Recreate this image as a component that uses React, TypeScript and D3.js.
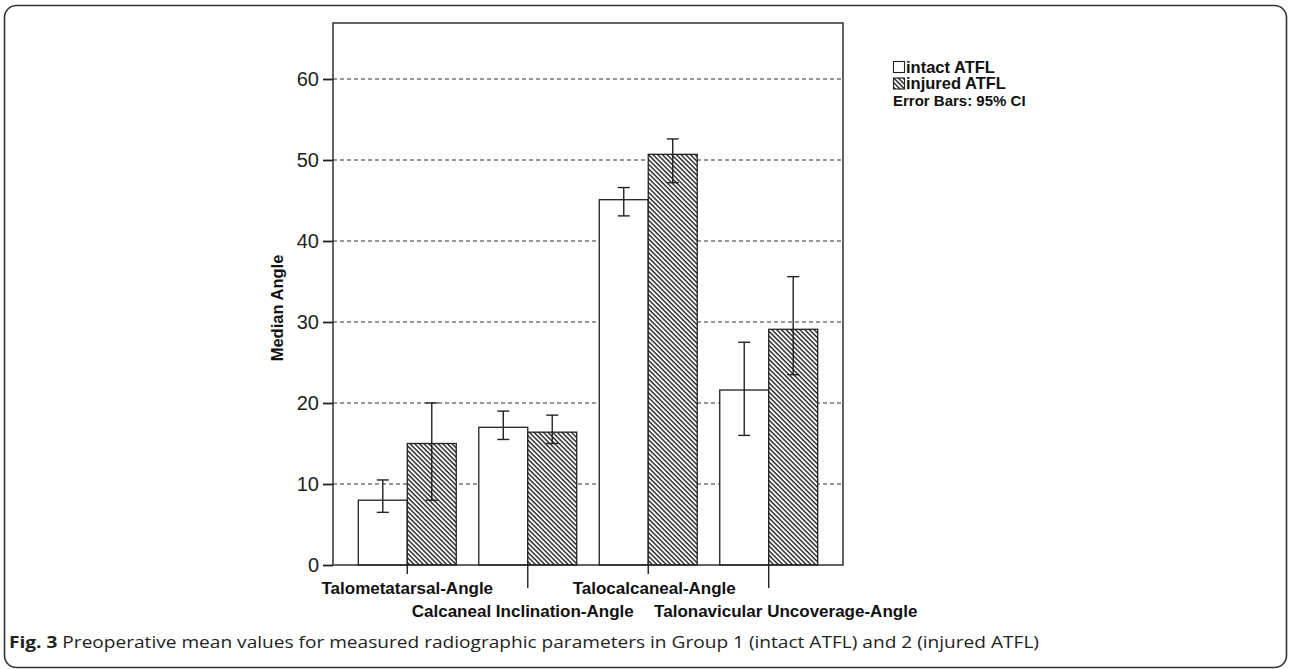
import { useEffect, useRef } from "react";
import * as d3 from "d3";

const categories = [
  "Talometatarsal-Angle",
  "Calcaneal Inclination-Angle",
  "Talocalcaneal-Angle",
  "Talonavicular Uncoverage-Angle",
];
const groups = ["intact ATFL", "injured ATFL"];

// means and 95% CI [low, high]
const intactMean = [8.0, 17.0, 45.1, 21.6];
const intactLow = [6.5, 15.5, 43.1, 16.0];
const intactHigh = [10.5, 19.0, 46.6, 27.5];
const injuredMean = [15.0, 16.4, 50.7, 29.1];
const injuredLow = [8.0, 15.0, 47.2, 23.5];
const injuredHigh = [20.0, 18.5, 52.6, 35.6];

const yTicks = [0, 10, 20, 30, 40, 50, 60];

const W = 1290, H = 669;
const frame = { left: 333, right: 843, top: 23, bottom: 565 };
const font = "Arial, 'Liberation Sans', sans-serif";
// small horizontal nudges of the staggered category labels, as in the original
const labelShift = [0, -5, 6, 17];

const App = () => {
  const ref = useRef<SVGSVGElement>(null);

  useEffect(() => {
    const svg = d3.select(ref.current);
    svg.selectAll("*").remove();

    const defs = svg.append("defs");
    defs.append("pattern")
      .attr("id", "hatch")
      .attr("patternUnits", "userSpaceOnUse")
      .attr("width", 10)
      .attr("height", 3.3)
      .attr("patternTransform", "rotate(45)")
      .call(p => p.append("rect").attr("width", 10).attr("height", 3.3).attr("fill", "#fff"))
      .append("line")
      .attr("x1", 0).attr("x2", 10).attr("y1", 0.7).attr("y2", 0.7)
      .attr("stroke", "#111").attr("stroke-width", 1.3);

    // outer rounded border
    svg.append("rect")
      .attr("x", 4.5).attr("y", 5.5)
      .attr("width", 1282).attr("height", 662)
      .attr("rx", 12)
      .attr("fill", "none").attr("stroke", "#333").attr("stroke-width", 1.6);

    const y = d3.scaleLinear()
      .domain([0, (frame.bottom - frame.top) / 8.1])
      .range([frame.bottom, frame.top]);

    const x0 = d3.scaleBand()
      .domain(categories)
      .range([frame.left, frame.right])
      .paddingInner(0.187)
      .paddingOuter(0.21);

    const x1 = d3.scaleBand()
      .domain(groups)
      .range([0, x0.bandwidth()]);

    // grid
    svg.append("g")
      .selectAll("line")
      .data(yTicks.filter(t => t > 0))
      .join("line")
      .attr("x1", frame.left).attr("x2", frame.right)
      .attr("y1", d => y(d)).attr("y2", d => y(d))
      .attr("stroke", "#333").attr("stroke-width", 1.2)
      .attr("stroke-dasharray", "4,3");

    const series = [
      { key: groups[0], mean: intactMean, low: intactLow, high: intactHigh, fill: "#fff" },
      { key: groups[1], mean: injuredMean, low: injuredLow, high: injuredHigh, fill: "url(#hatch)" },
    ];

    // bars
    series.forEach(s => {
      svg.append("g")
        .selectAll("rect")
        .data(categories)
        .join("rect")
        .attr("x", (c) => (x0(c) as number) + (x1(s.key) as number))
        .attr("y", (_c, i) => y(s.mean[i]))
        .attr("width", x1.bandwidth())
        .attr("height", (_c, i) => y(0) - y(s.mean[i]))
        .attr("fill", s.fill)
        .attr("stroke", "#222").attr("stroke-width", 1.3);
    });

    // error bars
    series.forEach(s => {
      const g = svg.append("g").attr("stroke", "#222").attr("stroke-width", 1.4);
      categories.forEach((c, i) => {
        const cx = (x0(c) as number) + (x1(s.key) as number) + x1.bandwidth() / 2;
        g.append("line").attr("x1", cx).attr("x2", cx).attr("y1", y(s.low[i])).attr("y2", y(s.high[i]));
        g.append("line").attr("x1", cx - 6).attr("x2", cx + 6).attr("y1", y(s.low[i])).attr("y2", y(s.low[i]));
        g.append("line").attr("x1", cx - 6).attr("x2", cx + 6).attr("y1", y(s.high[i])).attr("y2", y(s.high[i]));
      });
    });

    // frame
    svg.append("rect")
      .attr("x", frame.left).attr("y", frame.top)
      .attr("width", frame.right - frame.left).attr("height", frame.bottom - frame.top)
      .attr("fill", "none").attr("stroke", "#222").attr("stroke-width", 1.4);

    // y axis
    const yAxis = svg.append("g")
      .attr("transform", `translate(${frame.left},0)`)
      .call(d3.axisLeft(y).tickValues(yTicks).tickSize(10).tickPadding(4))
      .call(g => g.select(".domain").remove());
    yAxis.selectAll("line").attr("stroke", "#222").attr("stroke-width", 1.8);
    yAxis.selectAll("text")
      .attr("font-family", font).attr("font-size", 20).attr("fill", "#222");

    svg.append("text")
      .attr("transform", `translate(283,308) rotate(-90)`)
      .attr("text-anchor", "middle")
      .attr("font-family", font).attr("font-size", 16.5).attr("font-weight", "bold")
      .attr("fill", "#111")
      .text("Median Angle");

    // x axis ticks and staggered labels
    const xg = svg.append("g");
    categories.forEach((c, i) => {
      const cx = (x0(c) as number) + x0.bandwidth() / 2;
      const long = i % 2 === 1;
      xg.append("line")
        .attr("x1", cx).attr("x2", cx)
        .attr("y1", frame.bottom).attr("y2", frame.bottom + (long ? 23 : 9))
        .attr("stroke", "#222").attr("stroke-width", 1.4);
      xg.append("text")
        .attr("x", cx + labelShift[i]).attr("y", long ? 617 : 594)
        .attr("text-anchor", "middle")
        .attr("font-family", font).attr("font-size", 17).attr("font-weight", "bold")
        .attr("fill", "#111")
        .text(c);
    });

    // legend
    const lg = svg.append("g").attr("font-family", font).attr("font-weight", "bold").attr("fill", "#111");
    series.forEach((s, i) => {
      lg.append("rect")
        .attr("x", 893.5).attr("y", 61.5 + i * 16.5)
        .attr("width", 11).attr("height", 11)
        .attr("fill", s.fill).attr("stroke", "#222").attr("stroke-width", 1.1);
      lg.append("text")
        .attr("x", 906).attr("y", 72.5 + i * 16.5)
        .attr("font-size", 16.5)
        .text(s.key);
    });
    lg.append("text")
      .attr("x", 893).attr("y", 106)
      .attr("font-size", 15)
      .text("Error Bars: 95% CI");

    // caption
    const cap = svg.append("text")
      .attr("x", 9).attr("y", 648)
      .attr("font-family", "'Open Sans', 'Noto Sans', sans-serif")
      .attr("font-size", 16).attr("fill", "#222")
      .attr("textLength", 1030).attr("lengthAdjust", "spacingAndGlyphs");
    cap.append("tspan").attr("font-weight", "bold").text("Fig. 3");
    cap.append("tspan").text(" Preoperative mean values for measured radiographic parameters in Group 1 (intact ATFL) and 2 (injured ATFL)");
  }, []);

  return (
    <svg
      ref={ref}
      width={W}
      height={H}
      style={{ position: "absolute", left: 0, top: 0, background: "#fff" }}
    />
  );
};

export default App;
